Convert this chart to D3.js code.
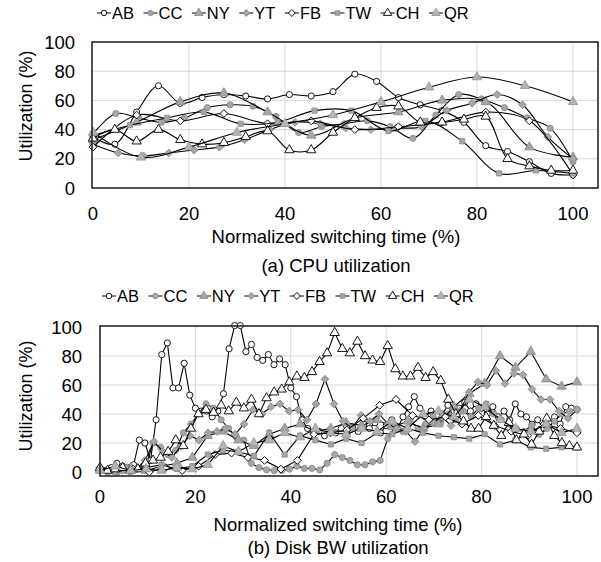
<!DOCTYPE html>
<html lang="en">
<head>
<meta charset="UTF-8">
<script src="https://cdn.jsdelivr.net/npm/d3@7/dist/d3.min.js"></script>
<style>
  body { margin: 0; background: #fff; }
  text { font-family: "Liberation Sans", Arial, sans-serif; fill: #000; }
</style>
</head>
<body>
<svg id="chart" width="601" height="562"></svg>
<script>
// series names, in legend order
const seriesNames = ["AB", "CC", "NY", "YT", "FB", "TW", "CH", "QR"];
const xTicks = [0, 20, 40, 60, 80, 100];
const yTicks = [0, 20, 40, 60, 80, 100];

// (a) CPU utilization, samples evenly spread over normalized time
const cpuAB = [35, 30, 52, 70, 58, 62, 64, 63, 61, 64, 63, 66, 78, 73, 62, 57, 53, 45, 29, 25, 18, 10, 9];
const cpuCC = [37, 51, 48, 45, 48, 55, 57, 56, 49, 38, 42, 44, 46, 42, 34, 50, 64, 61, 55, 48, 41, 18];
const cpuNY = [33, 45, 59, 65, 52, 36, 48, 52, 60, 59, 28, 21];
const cpuYT = [30, 24, 22, 24, 26, 28, 33, 40, 45, 44, 41, 40, 41, 42, 53, 58, 64, 57, 35, 20];
const cpuFB = [28, 50, 46, 51, 44, 46, 40, 42, 45, 52, 46, 9];
const cpuTW = [36, 43, 48, 52, 44, 45, 53, 53, 39, 46, 32, 10, 12, 10];
const cpuCH = [34, 40, 32, 40, 33, 30, 31, 35, 39, 26, 26, 38, 48, 55, 56, 45, 45, 47, 49, 20, 15, 12, 12];
const cpuQR = [38, 21, 28, 38, 44, 50, 59, 69, 76, 70, 59];

// (b) Disk BW utilization
const diskAB = [2, 1, 3, 6, 4, 3, 5, 22, 20, 8, 36, 81, 89, 58, 58, 75, 53, 44, 42, 42, 38, 42, 54, 85, 101, 101, 83, 88, 79, 77,
  81, 74, 78, 74, 58, 52, 36, 30, 27, 28, 25, 29, 27, 30, 26, 31, 28, 33, 30, 34, 27, 32, 36, 30, 38, 45, 52, 44, 38, 42,
  35, 40, 46, 38, 44, 48, 42, 47, 44, 40, 45, 38, 42, 36, 47, 40, 38, 33, 36, 30, 34, 38, 33, 45, 44, 43];
const diskCC = [1, 0, 2, 1, 0, 2, 3, 20, 17, 12, 15, 27, 33, 40, 47, 44, 36, 30, 24, 22, 6, 3, 1.5, 1, 1, 2, 4, 2.5, 2.5, 1.4,
  6, 12, 10, 8, 5, 5, 7, 8, 23, 32, 28, 35, 30, 33, 38, 34, 40, 36, 42, 38, 44, 47, 40, 36, 33, 30, 28, 32, 26, 30,
  35, 40, 42, 43];
const diskNY = [2, 1, 3, 1, 4, 6, 10, 25, 28, 22, 18, 26, 30, 33, 28, 30, 34, 32, 36, 31, 35, 30, 33, 45, 54, 61, 80, 72, 83, 64,
  59, 62];
const diskYT = [2, 1, 0, 3, 2, 8, 21, 14, 10, 18, 25, 22, 27, 28, 30, 26, 33, 43, 40, 45, 47, 42, 43, 36, 47, 64, 47, 35, 30, 39,
  35, 40, 33, 30, 28, 21, 30, 34, 38, 32, 42, 55, 62, 60, 70, 61, 68, 67, 57, 50, 50, 42, 37, 43];
const diskFB = [3, 1, 2, 0, 3, 1, 4, 12, 13, 10, 8, 2, 8, 26, 27, 29, 37, 46, 50, 39, 36, 38, 33, 39, 32, 28, 25, 33, 30, 27];
const diskTW = [1, 0, 2, 3, 5, 2, 4, 12, 15, 14, 11, 27, 12, 25, 22, 19, 23, 20, 27, 26, 30, 27, 25, 24, 23, 26, 19, 22, 17, 16,
  17, 17];
const diskCH = [3, 1, 2, 3, 1, 2, 6, 8, 10, 14, 22, 18, 30, 40, 43, 41, 46, 42, 48, 44, 50, 40, 51, 55, 57, 62, 66, 65, 69, 76,
  82, 96, 85, 82, 90, 80, 77, 76, 87, 71, 66, 66, 72, 65, 69, 63, 50, 40, 35, 30, 30, 38, 32, 25, 34, 22, 26, 19, 28, 37,
  25, 20, 18, 17];
const diskQR = [1, 4, 1, 2, 1, 3, 2, 5, 18, 14, 20, 22, 27, 24, 30, 27, 26, 30, 28, 35, 30, 40, 42, 38, 50, 45, 36, 30, 28, 33,
  27, 30];

const cpuSeries = [cpuAB, cpuCC, cpuNY, cpuYT, cpuFB, cpuTW, cpuCH, cpuQR];
const diskSeries = [diskAB, diskCC, diskNY, diskYT, diskFB, diskTW, diskCH, diskQR];

// marker look per series
const gray = "#a6a6a6", grayEdge = "#8c8c8c";
const markers = {
  AB: { shape: "circle", fill: "#fff", stroke: "#000" },
  CC: { shape: "circle", fill: gray, stroke: grayEdge },
  NY: { shape: "triangle", fill: gray, stroke: grayEdge },
  YT: { shape: "diamond", fill: gray, stroke: grayEdge },
  FB: { shape: "diamond", fill: "#fff", stroke: "#000" },
  TW: { shape: "square", fill: gray, stroke: grayEdge },
  CH: { shape: "triangle", fill: "#fff", stroke: "#000" },
  QR: { shape: "triangle", fill: "#b4b4b4", stroke: "#999" }
};

const svg = d3.select("#chart");
const fontSize = 18.5;

function markerPath(shape, k) {
  if (shape === "circle") return d3.symbol(d3.symbolCircle, 30 * k)();
  if (shape === "triangle") return d3.symbol(d3.symbolTriangle, 38 * k)();
  if (shape === "square") return d3.symbol(d3.symbolSquare, 26 * k)();
  return d3.symbol(d3.symbolSquare, 30 * k)(); // diamond = rotated square
}

function drawMarker(g, name, x, y, k = 1) {
  const m = markers[name];
  g.append("path")
    .attr("d", markerPath(m.shape, k))
    .attr("transform", `translate(${x},${y})` + (m.shape === "diamond" ? " rotate(45)" : ""))
    .attr("fill", m.fill)
    .attr("stroke", m.stroke)
    .attr("stroke-width", 0.9);
}

function drawLegend(cy, startX) {
  const g = svg.append("g");
  let x = startX;
  seriesNames.forEach(name => {
    g.append("line")
      .attr("x1", x).attr("x2", x + 14)
      .attr("y1", cy).attr("y2", cy)
      .attr("stroke", "#000").attr("stroke-width", 1);
    drawMarker(g, name, x + 7, cy, 0.8);
    const t = g.append("text")
      .attr("x", x + 15).attr("y", cy + 6)
      .attr("font-size", 16.5)
      .text(name);
    x += 15 + t.node().getComputedTextLength() + 9.5;
  });
}

function drawPanel(opt) {
  const { left, right, top, bottom, x0, x100, yZero, yHundred, data, curve } = opt;
  const x = d3.scaleLinear().domain([0, 100]).range([x0, x100]);
  const y = d3.scaleLinear().domain([0, 100]).range([yZero, yHundred]);
  const g = svg.append("g");

  // gridlines
  g.selectAll(".hg").data(yTicks.filter(v => v > 0 && v < 100)).enter().append("line")
    .attr("x1", left).attr("x2", right)
    .attr("y1", d => y(d)).attr("y2", d => y(d))
    .attr("stroke", "#d9d9d9").attr("stroke-width", 1);
  g.selectAll(".vg").data(xTicks.filter(v => v > 0)).enter().append("line")
    .attr("x1", d => x(d)).attr("x2", d => x(d))
    .attr("y1", top).attr("y2", bottom)
    .attr("stroke", "#d9d9d9").attr("stroke-width", 1);

  // series: line then its markers
  const line = d3.line().x(d => x(d[0])).y(d => y(d[1])).curve(curve);
  data.forEach((vals, k) => {
    const name = seriesNames[k];
    const pts = vals.map((v, i) => [i * 100 / (vals.length - 1), v]);
    g.append("path")
      .attr("d", line(pts))
      .attr("fill", "none")
      .attr("stroke", "#000")
      .attr("stroke-width", 1.1);
    pts.forEach(p => drawMarker(g, name, x(p[0]), y(p[1])));
  });

  // frame
  g.append("rect")
    .attr("x", left).attr("y", top)
    .attr("width", right - left).attr("height", bottom - top)
    .attr("fill", "none").attr("stroke", "#262626").attr("stroke-width", 1.6);

  // tick labels
  g.selectAll(".xt").data(xTicks).enter().append("text")
    .attr("x", d => x(d)).attr("y", opt.tickY)
    .attr("text-anchor", "middle").attr("font-size", fontSize)
    .text(d => d);
  g.selectAll(".yt").data(yTicks).enter().append("text")
    .attr("x", opt.yLabelRight).attr("y", d => y(d) + 6.6)
    .attr("text-anchor", "end").attr("font-size", fontSize)
    .text(d => d);

  // titles
  g.append("text")
    .attr("transform", `translate(31.5,${opt.yTitleY}) rotate(-90)`)
    .attr("text-anchor", "middle").attr("font-size", 18)
    .text("Utilization (%)");
  g.append("text")
    .attr("x", opt.midX).attr("y", opt.titleY)
    .attr("text-anchor", "middle").attr("font-size", fontSize)
    .text("Normalized switching time (%)");
  g.append("text")
    .attr("x", opt.midX).attr("y", opt.captionY)
    .attr("text-anchor", "middle").attr("font-size", fontSize)
    .text(opt.caption);
}

drawLegend(13, 97);
drawPanel({
  left: 92, right: 598, top: 42, bottom: 188, x0: 93, x100: 573,
  yZero: 188, yHundred: 42, data: cpuSeries, curve: d3.curveCatmullRom.alpha(0.5),
  tickY: 220, titleY: 243, captionY: 272, caption: "(a) CPU utilization", midX: 336,
  yLabelRight: 75, yTitleY: 106
});

drawLegend(296, 102);
drawPanel({
  left: 100, right: 598, top: 326, bottom: 476, x0: 100, x100: 577,
  yZero: 472, yHundred: 327, data: diskSeries, curve: d3.curveLinear,
  tickY: 503, titleY: 531, captionY: 554, caption: "(b) Disk BW utilization", midX: 338,
  yLabelRight: 82, yTitleY: 396
});
</script>
</body>
</html>
